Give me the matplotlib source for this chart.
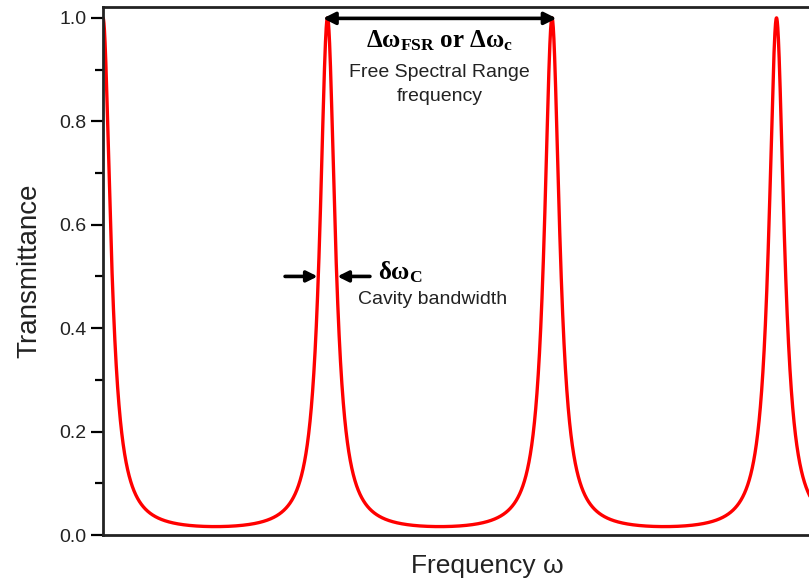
"""Airy transmission of a Fabry-Perot cavity: FSR and cavity bandwidth."""

import matplotlib
matplotlib.use("Agg")
import matplotlib.pyplot as plt
import numpy as np
from matplotlib.ticker import MultipleLocator

# values (x in units of one free spectral range)
peak_positions = [0.0, 1.0, 2.0, 3.0]
peak_transmittance = 1.0
min_transmittance = 0.018
fwhm = 0.078                      # full width at half maximum, in FSR units
y_ticks = [0.0, 0.2, 0.4, 0.6, 0.8, 1.0]
y_tick_labels = ["0.0", "0.2", "0.4", "0.6", "0.8", "1.0"]
x_label = "Frequency ω"
y_label = "Transmittance"

SANS = ["Liberation Sans", "DejaVu Sans"]
RED = "#ff0000"

plt.rcParams["mathtext.fontset"] = "custom"
plt.rcParams["mathtext.rm"] = "Liberation Serif"
plt.rcParams["mathtext.it"] = "Liberation Serif:italic"
plt.rcParams["mathtext.bf"] = "Liberation Serif:bold"

# Airy function built from the read-off minimum and linewidth
coef = 1.0 / min_transmittance - 1.0
coef_w = (2.0 / (np.pi * fwhm)) ** 2
coef = 0.5 * (coef + coef_w)
x = np.linspace(-0.05, 3.3, 6000)
y = peak_transmittance / (1.0 + coef * np.sin(np.pi * (x - peak_positions[0])) ** 2)

fig = plt.figure(figsize=(8.09, 5.83), dpi=100)
ax = fig.add_axes([103 / 809, 48 / 583, 0.95, 528 / 583])
ax.plot(x, y, color=RED, lw=2.4, solid_capstyle="round")

px_per_fsr = 224.5
ax.set_xlim(0, 0.95 * 809 / px_per_fsr)
ax.set_ylim(0, 1.021)

for side in ["left", "bottom", "top", "right"]:
    ax.spines[side].set_linewidth(2.0)
    ax.spines[side].set_color("#222222")

ax.set_xticks([])
ax.set_yticks(y_ticks)
ax.set_yticklabels(y_tick_labels, family=SANS, fontsize=14, color="#222222")
ax.yaxis.set_minor_locator(MultipleLocator(0.1))
ax.tick_params(axis="y", which="major", direction="out", length=9, width=1.6, pad=3)
ax.tick_params(axis="y", which="minor", direction="out", length=6, width=1.6)

ax.set_xlabel(x_label, family=SANS, fontsize=19, labelpad=14, color="#222222")
ax.set_ylabel(y_label, family=SANS, fontsize=20, labelpad=12, color="#222222")

# FSR double arrow between neighbouring peaks
fsr_y = 0.999
ax.annotate("", xy=(peak_positions[1] - 0.02, fsr_y), xytext=(peak_positions[2] + 0.02, fsr_y),
            arrowprops=dict(arrowstyle="<|-|>", color="black", lw=2.6,
                            mutation_scale=18, shrinkA=0, shrinkB=0))
ax.text(1.5, 0.955, r"$\mathbf{\Delta\omega_{FSR}\ or\ \Delta\omega_c}$",
        ha="center", va="center", fontsize=18)
ax.text(1.5, 0.895, "Free Spectral Range", ha="center", va="center",
        fontsize=14, family=SANS, color="#222222")
ax.text(1.5, 0.847, "frequency", ha="center", va="center",
        fontsize=14, family=SANS, color="#222222")

# linewidth arrows at half maximum
half = 0.5 * peak_transmittance
left_edge = peak_positions[1] - fwhm / 2
right_edge = peak_positions[1] + fwhm / 2
ax.annotate("", xy=(left_edge - 0.005, half), xytext=(left_edge - 0.15, half),
            arrowprops=dict(arrowstyle="-|>", color="black", lw=2.6,
                            mutation_scale=16, shrinkA=0, shrinkB=0))
ax.annotate("", xy=(right_edge + 0.005, half), xytext=(right_edge + 0.15, half),
            arrowprops=dict(arrowstyle="-|>", color="black", lw=2.6,
                            mutation_scale=16, shrinkA=0, shrinkB=0))
ax.text(1.225, 0.508, r"$\mathbf{\delta\omega_C}$", ha="left", va="center",
        fontsize=18)
ax.text(1.135, 0.455, "Cavity bandwidth", ha="left", va="center",
        fontsize=14, family=SANS, color="#222222")

fig.savefig("out.png", dpi=100)
